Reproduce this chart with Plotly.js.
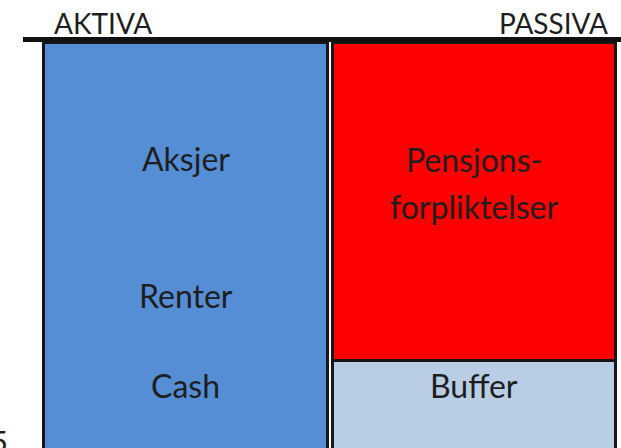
<!DOCTYPE html>
<html>
<head>
<meta charset="utf-8">
<script src="https://cdn.plot.ly/plotly-3.0.1.min.js"></script>
<style>html,body{margin:0;padding:0;background:#fff;}#chart{width:621px;height:448px;}</style>
</head>
<body>
<div id="chart"></div>
<script>
// ---- data ----
const categories = ['Aktiva', 'Passiva'];
const aktivaValues = [100, null];          // total assets column
const pensjonValues = [null, 75];          // pension obligations
const bufferValues = [null, 25];           // buffer capital
const headerLabels = ['AKTIVA', 'PASSIVA'];
const aktivaLabels = ['Aksjer', 'Renter', 'Cash'];
const passivaLabels = ['Pensjons-', 'forpliktelser', 'Buffer'];
const cornerLabel = '5';

// ---- layout helpers (positions, not data) ----
const aktivaLabelY = [72.6, 40.3, 19.1];
const passivaLabelY = [72.2, 61.3, 19.1];

const FONT = 'Lato, "Noto Sans", sans-serif';
const TXT = '#1e1e1e';
const lineStyle = {color: '#161616', width: 3};

const traces = [
  {type: 'bar', x: categories, y: bufferValues, name: 'Buffer',
   marker: {color: '#B9CDE5', line: lineStyle}, hoverinfo: 'skip'},
  {type: 'bar', x: categories, y: pensjonValues, name: 'Pensjonsforpliktelser',
   marker: {color: '#FF0000', line: lineStyle}, hoverinfo: 'skip'},
  {type: 'bar', x: categories, y: aktivaValues, name: 'Aktiva',
   marker: {color: '#558ED5', line: lineStyle}, hoverinfo: 'skip'}
];

const annotations = [];
aktivaLabels.forEach((t, i) => annotations.push({
  text: t, x: categories[0], y: aktivaLabelY[i], xref: 'x', yref: 'y',
  showarrow: false, xanchor: 'center', yanchor: 'middle',
  font: {family: FONT, size: 32, color: TXT}
}));
passivaLabels.forEach((t, i) => annotations.push({
  text: t, x: categories[1], y: passivaLabelY[i], xref: 'x', yref: 'y',
  showarrow: false, xanchor: 'center', yanchor: 'middle',
  font: {family: FONT, size: 32, color: TXT}
}));
annotations.push({
  text: headerLabels[0], x: 0.0485, y: 1.047, xref: 'paper', yref: 'paper',
  showarrow: false, xanchor: 'left', yanchor: 'middle',
  font: {family: FONT, size: 28, color: TXT}
});
annotations.push({
  text: headerLabels[1], x: 0.9816, y: 1.047, xref: 'paper', yref: 'paper',
  showarrow: false, xanchor: 'right', yanchor: 'middle',
  font: {family: FONT, size: 28, color: TXT}
});
annotations.push({
  text: cornerLabel, x: -0.022, y: 0.017, xref: 'paper', yref: 'paper',
  showarrow: false, xanchor: 'right', yanchor: 'middle',
  font: {family: FONT, size: 31, color: TXT}
});

const layout = {
  width: 621, height: 448,
  margin: {l: 23, r: 0, t: 42, b: 0, pad: 0},
  paper_bgcolor: '#ffffff', plot_bgcolor: '#ffffff',
  barmode: 'stack', bargap: 0.016,
  showlegend: false,
  xaxis: {type: 'category', range: [-0.5633, 1.5095], side: 'top',
          showline: true, linecolor: '#111111', linewidth: 5, mirror: false,
          showticklabels: false, ticks: '', showgrid: false, zeroline: false, fixedrange: true},
  yaxis: {range: [4.25, 100], showline: false, showticklabels: false, ticks: '',
          showgrid: false, zeroline: false, fixedrange: true},
  annotations: annotations,
  hovermode: false
};

Plotly.newPlot('chart', traces, layout, {displayModeBar: false, staticPlot: true});
</script>
</body>
</html>
